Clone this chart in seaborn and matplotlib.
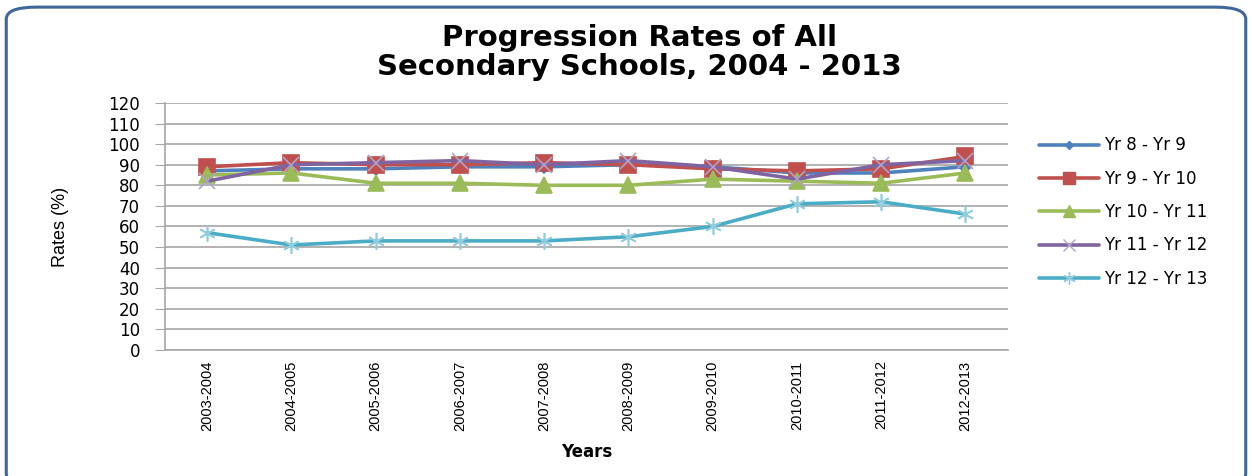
import pandas as pd
import seaborn as sns
import matplotlib.pyplot as plt
from matplotlib.patches import FancyBboxPatch
from matplotlib.lines import Line2D

# Data
years = ["2003-2004", "2004-2005", "2005-2006", "2006-2007", "2007-2008",
         "2008-2009", "2009-2010", "2010-2011", "2011-2012", "2012-2013"]
yr8_9 = [87, 88, 88, 89, 89, 90, 89, 86, 86, 89]
yr9_10 = [89, 91, 90, 90, 91, 90, 88, 87, 88, 94]
yr10_11 = [85, 86, 81, 81, 80, 80, 83, 82, 81, 86]
yr11_12 = [82, 90, 91, 92, 90, 92, 89, 83, 90, 92]
yr12_13 = [57, 51, 53, 53, 53, 55, 60, 71, 72, 66]
series_names = ["Yr 8 - Yr 9", "Yr 9 - Yr 10", "Yr 10 - Yr 11",
                "Yr 11 - Yr 12", "Yr 12 - Yr 13"]
y_ticks = list(range(0, 121, 10))

df = pd.DataFrame({"Years": years,
                   series_names[0]: yr8_9,
                   series_names[1]: yr9_10,
                   series_names[2]: yr10_11,
                   series_names[3]: yr11_12,
                   series_names[4]: yr12_13})
long_df = df.melt(id_vars="Years", var_name="Series", value_name="Rate")

sns.set_style("white")
plt.rcParams['font.family'] = ['DejaVu Sans']
plt.rcParams['text.color'] = 'black'
plt.rcParams['axes.labelcolor'] = 'black'
plt.rcParams['xtick.color'] = 'black'
plt.rcParams['ytick.color'] = 'black'

line_colors = ["#4F81BD", "#C0504D", "#9BBB59", "#8064A2", "#4BACC6"]
marker_colors = ["#4F81BD", "#C0504D", "#9BBB59", "#B3A2C7", "#93CDDD"]
markers = ["D", "s", "^", "x", (6, 2, 0)]
msizes = [6, 11, 11, 11, 12]

fig = plt.figure(figsize=(12.52, 4.76), dpi=100)
ax = fig.add_axes([0.1318, 0.2647, 0.673, 0.519])

handles = []
for i, name in enumerate(series_names):
    sub = long_df[long_df["Series"] == name]
    sns.lineplot(data=sub, x="Years", y="Rate", ax=ax, color=line_colors[i],
                 linewidth=2.6, marker=markers[i], markersize=msizes[i],
                 markerfacecolor=marker_colors[i], markeredgecolor=marker_colors[i],
                 markeredgewidth=1.2, sort=False)
    handles.append(Line2D([], [], color=line_colors[i], linewidth=2.6,
                          marker=markers[i], markersize=msizes[i] * 0.75,
                          markerfacecolor=marker_colors[i],
                          markeredgecolor=marker_colors[i]))

ax.set_xlim(-0.5, len(years) - 0.5)
ax.set_ylim(0, 120)
ax.set_yticks(y_ticks)
ax.set_yticklabels([str(v) for v in y_ticks], fontsize=12)
ax.grid(axis="y", color="#A6A6A6", linewidth=1.2)
ax.set_axisbelow(True)
for side in ["top", "right"]:
    ax.spines[side].set_visible(False)
for side in ["left", "bottom"]:
    ax.spines[side].set_color("#A6A6A6")
    ax.spines[side].set_linewidth(1.2)
ax.tick_params(axis="y", left=True, length=7, color="#A6A6A6", pad=11)
ax.tick_params(axis="x", bottom=False, pad=4)
ax.set_xticks(range(len(years)))
ax.set_xticklabels(years, rotation=90, fontsize=10.5, family=['Liberation Sans'])

ax.set_xlabel("Years", fontsize=12, fontweight="bold", labelpad=9)
ax.set_ylabel("Rates (%)", fontsize=13, family=['Liberation Sans'], labelpad=28)

fig.text(0.511, 0.89, "Progression Rates of All\nSecondary Schools, 2004 - 2013",
         ha="center", va="center", fontsize=21, fontweight="bold",
         linespacing=1.05)

ax.legend(handles, series_names, loc="upper left", frameon=False,
          bbox_to_anchor=(0.818, 0.745), bbox_transform=fig.transFigure,
          fontsize=12, labelspacing=0.92, handlelength=3.6, handletextpad=0.3)

border = FancyBboxPatch((0.005, -0.02), 0.99, 1.005,
                        boxstyle="round,pad=0,rounding_size=0.024",
                        mutation_aspect=1.05, transform=fig.transFigure,
                        facecolor="none", edgecolor="#3F679B", linewidth=2.2)
fig.patches.append(border)

fig.savefig("out.png", dpi=100)
